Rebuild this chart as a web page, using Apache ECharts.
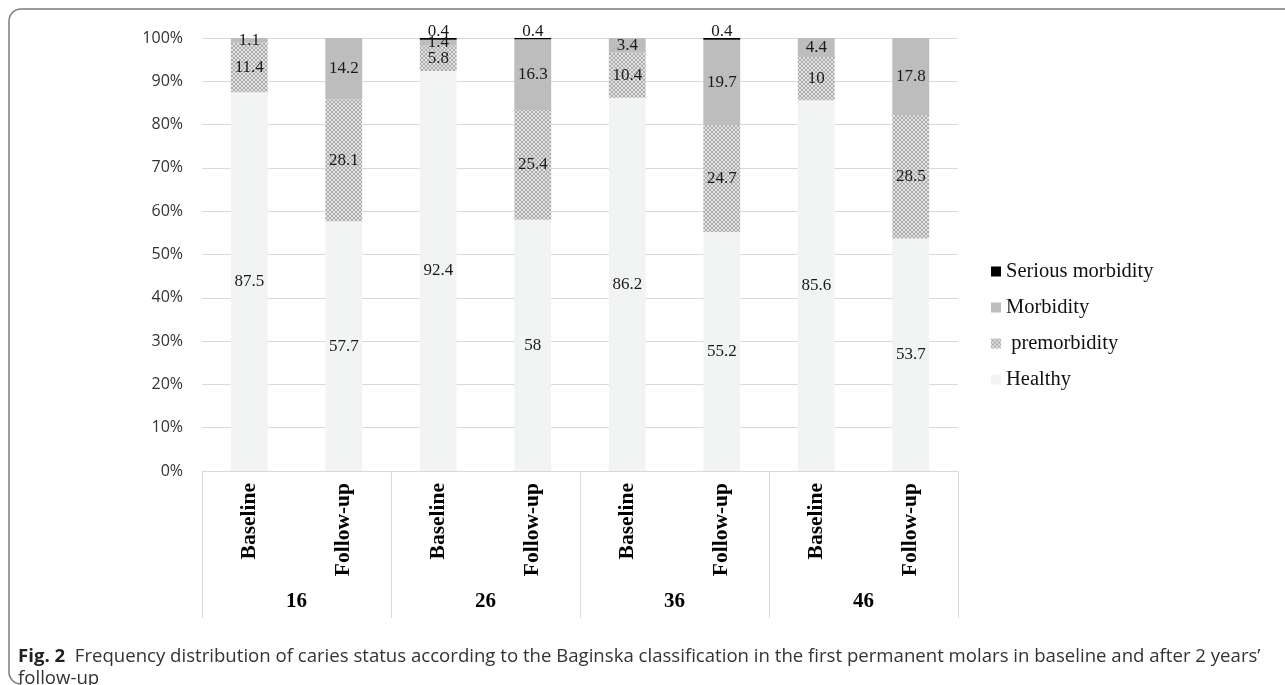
<!DOCTYPE html>
<html>
<head>
<meta charset="utf-8">
<script src="https://cdn.jsdelivr.net/npm/echarts@6/dist/echarts.min.js"></script>
<style>
  html, body { margin: 0; padding: 0; background: #ffffff; }
  #chart { width: 1285px; height: 685px; }
</style>
</head>
<body>
<div id="chart"></div>
<script>
// Molar groups and examination points
const teeth = ['16', '26', '36', '46'];
const visits = ['Baseline', 'Follow-up', 'Baseline', 'Follow-up', 'Baseline', 'Follow-up', 'Baseline', 'Follow-up'];

// Percentages per bar (16 B, 16 F, 26 B, 26 F, 36 B, 36 F, 46 B, 46 F)
const healthy      = [87.5, 57.7, 92.4, 58, 86.2, 55.2, 85.6, 53.7];
const premorbidity = [11.4, 28.1, 5.8, 25.4, 10.4, 24.7, 10, 28.5];
const morbidity    = [1.1, 14.2, 1.4, 16.3, 3.4, 19.7, 4.4, 17.8];
const serious      = [0, 0, 0.4, 0.4, 0, 0.4, 0, 0];

const yTicks = [0, 10, 20, 30, 40, 50, 60, 70, 80, 90, 100];

// Diagonal crosshatch fill used for the premorbidity segments
function hatchPattern() {
  const c = document.createElement('canvas');
  c.width = 4; c.height = 4;
  const ctx = c.getContext('2d');
  ctx.fillStyle = '#e2e2e2';
  ctx.fillRect(0, 0, 4, 4);
  ctx.fillStyle = '#acacac';
  for (let x = 0; x < 4; x++) {
    for (let y = 0; y < 4; y++) {
      if (x === y || x + y === 3) ctx.fillRect(x, y, 1, 1);
    }
  }
  return c;
}

const serif = '"Liberation Serif", "DejaVu Serif", serif';
const sans = '"Open Sans", "Noto Sans", sans-serif';
const labelStyle = {
  show: true,
  position: 'inside',
  fontFamily: serif,
  fontSize: 17,
  color: '#1a1a1a',
  formatter: p => (p.value ? String(p.value) : '')
};

const frameStroke = { stroke: '#7a7a7a', lineWidth: 1.5, fill: null };

const chart = echarts.init(document.getElementById('chart'), null, { renderer: 'canvas' });

chart.setOption({
  backgroundColor: '#ffffff',
  animation: false,
  grid: { left: 202, right: 327, top: 38, bottom: 214, containLabel: false },
  legend: {
    orient: 'vertical',
    left: 986,
    top: 256,
    itemWidth: 10,
    itemHeight: 10,
    itemGap: 15,
    icon: 'rect',
    textStyle: { fontFamily: serif, fontSize: 20.5, color: '#111' },
    data: ['Serious morbidity', 'Morbidity', ' premorbidity', 'Healthy']
  },
  xAxis: [
    {
      type: 'category',
      data: visits,
      axisLine: { show: false },
      axisTick: { show: false },
      axisLabel: {
        rotate: 90,
        margin: 12,
        interval: 0,
        fontFamily: serif,
        fontWeight: 'bold',
        fontSize: 21.5,
        color: '#000'
      }
    },
    {
      type: 'category',
      data: teeth,
      position: 'bottom',
      axisLine: { show: true, lineStyle: { color: '#d9d9d9', width: 1 } },
      axisTick: { show: true, length: 147, interval: 0, lineStyle: { color: '#d9d9d9', width: 1 } },
      axisLabel: {
        margin: 120,
        interval: 0,
        fontFamily: serif,
        fontWeight: 'bold',
        fontSize: 21,
        color: '#000'
      }
    }
  ],
  yAxis: {
    type: 'value',
    min: yTicks[0],
    max: yTicks[yTicks.length - 1],
    interval: 10,
    axisLine: { show: false },
    axisTick: { show: false },
    splitLine: { lineStyle: { color: '#d9d9d9', width: 1 } },
    axisLabel: {
      margin: 19,
      fontFamily: sans,
      fontSize: 16,
      color: '#333',
      formatter: '{value}%'
    }
  },
  series: [
    {
      name: 'Healthy', type: 'bar', stack: 'all', xAxisIndex: 0, barWidth: '39%',
      data: healthy, itemStyle: { color: '#f2f4f4' }, label: labelStyle
    },
    {
      name: ' premorbidity', type: 'bar', stack: 'all', xAxisIndex: 0,
      data: premorbidity, itemStyle: { color: { image: hatchPattern(), repeat: 'repeat' } }, label: labelStyle
    },
    {
      name: 'Morbidity', type: 'bar', stack: 'all', xAxisIndex: 0,
      data: morbidity, itemStyle: { color: '#bdbdbd' }, label: labelStyle
    },
    {
      name: 'Serious morbidity', type: 'bar', stack: 'all', xAxisIndex: 0,
      data: serious, itemStyle: { color: '#000000' },
      label: Object.assign({}, labelStyle, { position: 'top', distance: -2 })
    }
  ],
  graphic: [
    // Figure frame: top and left edges with rounded corners
    { type: 'line', shape: { x1: 21, y1: 9, x2: 1285, y2: 9 }, style: frameStroke },
    { type: 'line', shape: { x1: 9, y1: 21, x2: 9, y2: 672 }, style: frameStroke },
    { type: 'arc', shape: { cx: 21, cy: 21, r: 12, startAngle: Math.PI, endAngle: Math.PI * 1.5 }, style: frameStroke },
    { type: 'arc', shape: { cx: 21, cy: 672, r: 12, startAngle: Math.PI * 0.5, endAngle: Math.PI }, style: frameStroke },
    {
      type: 'text',
      left: 18, top: 647,
      style: {
        text: '{b|Fig. 2}  Frequency distribution of caries status according to the Baginska classification in the first permanent molars in baseline and after 2 years\u2019',
        rich: {
          b: { fontFamily: sans, fontWeight: 'bold', fontSize: 18.6, fill: '#222' }
        },
        fontFamily: sans,
        fontSize: 18.6,
        fill: '#333'
      }
    },
    {
      type: 'text',
      left: 18, top: 669,
      style: { text: 'follow-up', fontFamily: sans, fontSize: 18.6, fill: '#333' }
    }
  ]
});
</script>
</body>
</html>
